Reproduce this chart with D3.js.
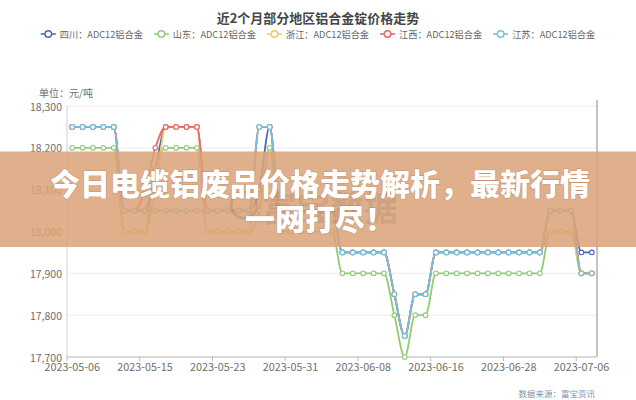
<!DOCTYPE html>
<html><head><meta charset="utf-8">
<script src="https://cdn.jsdelivr.net/npm/d3@7"></script>
<style>
html,body{margin:0;padding:0;background:#fff;}
svg{display:block;font-family:'Noto Sans CJK SC','Noto Sans',sans-serif;}
</style></head>
<body><svg id="c" width="636" height="400"></svg>
<script>
const categories = [
 "2023-05-06","2023-05-08","2023-05-09","2023-05-10","2023-05-11","2023-05-12","2023-05-13",
 "2023-05-15","2023-05-16","2023-05-17","2023-05-18","2023-05-19","2023-05-20","2023-05-22",
 "2023-05-23","2023-05-24","2023-05-25","2023-05-26","2023-05-27","2023-05-29","2023-05-30",
 "2023-05-31","2023-06-01","2023-06-02","2023-06-03","2023-06-05","2023-06-06","2023-06-07",
 "2023-06-08","2023-06-09","2023-06-10","2023-06-12","2023-06-13","2023-06-14","2023-06-15",
 "2023-06-16","2023-06-19","2023-06-20","2023-06-21","2023-06-25","2023-06-26","2023-06-27",
 "2023-06-28","2023-06-29","2023-06-30","2023-07-01","2023-07-03","2023-07-04","2023-07-05",
 "2023-07-06","2023-07-07"
];
const labelEvery = 7;
const yTicks = [17700,17800,17900,18000,18100,18200,18300];

const sichuan  = [18250,18250,18250,18250,18250, 18050,18050,18050, 18150, 18250,18250,18250,18250,
  18050,18050,18050,18050,18050, 18100, 18250, 18050,18050,18050,18050,18050,18050,
  17950,17950,17950,17950,17950, 17850,17750,17850,17850,
  17950,17950,17950,17950,17950,17950,17950,17950,17950,17950,17950, 18050,18050,18050, 17950,17950];
const shandong = [18200,18200,18200,18200,18200, 18000,18000,18000, 18150, 18200,18200,18200,18200,
  18000,18000,18000,18000,18000, 18050, 18200, 18000,18000,18000,18000,18000,18000,
  17900,17900,17900,17900,17900, 17800,17700,17800,17800,
  17900,17900,17900,17900,17900,17900,17900,17900,17900,17900,17900, 18000,18000,18000, 17900,17900];
const zhejiang = [18250,18250,18250,18250,18250, 18000,18000,18000, 18100, 18250,18250,18250,18250,
  18000,18000,18000,18000,18000, 18250, 18250, 18050,18050,18050,18050,18050,18050,
  17950,17950,17950,17950,17950, 17850,17750,17850,17850,
  17950,17950,17950,17950,17950,17950,17950,17950,17950,17950,17950, 18000,18000,18000, 17900,17900];
const jiangxi  = [18250,18250,18250,18250,18250, 18050,18050,18100, 18200, 18250,18250,18250,18250,
  18050,18050,18050,18050,18050, 18250, 18250, 18050,18050,18050,18050,18050,18050,
  17950,17950,17950,17950,17950, 17850,17750,17850,17850,
  17950,17950,17950,17950,17950,17950,17950,17950,17950,17950,17950, 18050,18050,18050, 17900,17900];
const jiangsu  = [18250,18250,18250,18250,18250, 18050,18050,18050,18050,18050,18050,18050,18050,
  18050,18050,18050,18050,18050, 18250, 18250, 18050,18050,18050,18050,18050,18050,
  17950,17950,17950,17950,17950, 17850,17750,17850,17850,
  17950,17950,17950,17950,17950,17950,17950,17950,17950,17950,17950, 18050,18050,18050, 17900,17900];

const seriesNames = ["四川：ADC12铝合金","山东：ADC12铝合金","浙江：ADC12铝合金","江西：ADC12铝合金","江苏：ADC12铝合金"];
const seriesColors = ["#4d66bd","#91cc75","#fac858","#ee6666","#73c0de"];
const seriesData = [sichuan, shandong, zhejiang, jiangxi, jiangsu];

const svg = d3.select("#c");
const L = 67, R = 597, T = 106, B = 357;
const x = d3.scaleBand().domain(categories).range([L, R]).padding(0);
const bw = x.bandwidth();
const y = d3.scaleLinear().domain([17700, 18300]).range([B, T]);

// title
svg.append("text").attr("x", 318).attr("y", 17).attr("text-anchor","middle")
  .attr("dominant-baseline","central").attr("font-size",13).attr("font-weight",700)
  .attr("fill","#464646").text("近2个月部分地区铝合金锭价格走势");

// legend
const lg = svg.append("g");
let cx = 0;
seriesNames.forEach((n,i)=>{
  const g = lg.append("g").attr("transform",`translate(${cx},0)`);
  g.append("line").attr("x1",0).attr("x2",15).attr("y1",0).attr("y2",0)
    .attr("stroke",seriesColors[i]).attr("stroke-width",1.6);
  g.append("circle").attr("cx",7.5).attr("cy",0).attr("r",3.3).attr("fill","#fff")
    .attr("stroke",seriesColors[i]).attr("stroke-width",1.4);
  const t = g.append("text").attr("x",19).attr("y",0).attr("dominant-baseline","central")
    .attr("font-size",9.2).attr("fill","#666").text(n);
  cx += 19 + t.node().getComputedTextLength() + 11;
});
cx -= 11;
lg.attr("transform",`translate(${318 - cx/2},34)`);

// grid
svg.append("g").selectAll("line").data(yTicks).join("line")
  .attr("x1",L).attr("x2",R).attr("y1",d=>y(d)).attr("y2",d=>y(d))
  .attr("stroke","#ececec").attr("stroke-width",1);

// y axis labels
svg.append("g").selectAll("text").data(yTicks).join("text")
  .attr("x",L-5).attr("y",d=>y(d)).attr("text-anchor","end").attr("dominant-baseline","central")
  .attr("font-size",10.5).attr("fill","#6e6e6e").text(d=>d3.format(",")(d));
svg.append("text").attr("x",L-1).attr("y",92).attr("text-anchor","middle").attr("dominant-baseline","central")
  .attr("font-size",10).attr("fill","#6e6e6e").text("单位：元/吨");

// axes lines
svg.append("line").attr("x1",L).attr("x2",L).attr("y1",T).attr("y2",B).attr("stroke","#cfcfcf");
svg.append("line").attr("x1",R).attr("x2",R).attr("y1",T-6).attr("y2",B).attr("stroke","#8a8a8a");
svg.append("line").attr("x1",L).attr("x2",R).attr("y1",B).attr("y2",B).attr("stroke","#cfcfcf").attr("stroke-width",1.5);

const labelCats = categories.filter((d,i)=>i % labelEvery === 0);
svg.append("g").selectAll("line").data(labelCats).join("line")
  .attr("x1",d=>x(d)).attr("x2",d=>x(d)).attr("y1",B).attr("y2",B+4).attr("stroke","#bbb");
svg.append("g").selectAll("text").data(labelCats).join("text")
  .attr("x",d=>x(d)+bw/2).attr("y",B+9).attr("text-anchor","middle").attr("dominant-baseline","central")
  .attr("font-size",10.8).attr("fill","#6e6e6e").text(d=>d);

// series
const line = d3.line().x((d,i)=>x(categories[i])+bw/2).y(d=>y(d)).curve(d3.curveMonotoneX);
seriesData.forEach((s,k)=>{
  const g = svg.append("g");
  g.append("path").datum(s).attr("d",line).attr("fill","none")
    .attr("stroke",seriesColors[k]).attr("stroke-width",1.8);
  g.selectAll("circle").data(s).join("circle")
    .attr("cx",(d,i)=>x(categories[i])+bw/2).attr("cy",d=>y(d)).attr("r",2.3)
    .attr("fill","#fff").attr("stroke",seriesColors[k]).attr("stroke-width",1.1);
});

// footer
svg.append("text").attr("x",595).attr("y",393).attr("text-anchor","end").attr("dominant-baseline","central")
  .attr("font-size",8.5).attr("fill","#7f93ad").text("数据来源：富宝资讯");

// overlay banner
svg.append("rect").attr("x",0).attr("y",151.5).attr("width",636).attr("height",95.5)
  .attr("fill","#dba278").attr("fill-opacity",0.86);
// faint watermark
svg.append("circle").attr("cx",244).attr("cy",205).attr("r",13).attr("fill","none")
  .attr("stroke","#8a6a55").attr("stroke-opacity",0.22).attr("stroke-width",3);
svg.append("text").attr("x",262).attr("y",206).attr("dominant-baseline","central")
  .attr("font-size",34).attr("font-weight",700).attr("fill","#8a6a55").attr("fill-opacity",0.2)
  .text("富宝数据");
const bt = svg.append("g").attr("font-size",30).attr("font-weight",900).attr("fill","#fff")
  .attr("text-anchor","middle").attr("dominant-baseline","central")
  .attr("stroke","rgba(110,70,40,0.25)").attr("stroke-width",1.2).attr("paint-order","stroke");
bt.append("text").attr("x",320).attr("y",182).text("今日电缆铝废品价格走势解析，最新行情");
bt.append("text").attr("x",320).attr("y",217).text("一网打尽！");
</script></body></html>
